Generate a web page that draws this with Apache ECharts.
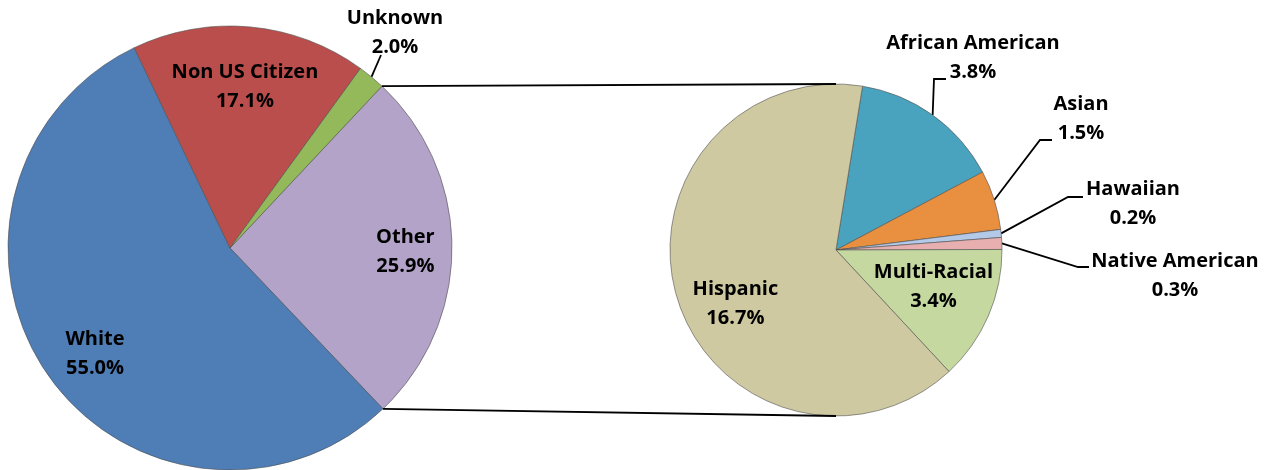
<!DOCTYPE html>
<html><head><meta charset="utf-8">
<script src="https://cdn.jsdelivr.net/npm/echarts@6/dist/echarts.min.js"></script>
<style>html,body{margin:0;padding:0;background:#fff}#c{width:1270px;height:470px}</style>
</head><body><div id="c"></div><script>
// ---- data ----
const leftNames = ['Other', 'White', 'Non US Citizen', 'Unknown'];
const leftValues = [25.9, 55.0, 17.1, 2.0];
const rightNames = ['African American', 'Asian', 'Hawaiian', 'Native American', 'Multi-Racial', 'Hispanic'];
const rightValues = [3.8, 1.5, 0.2, 0.3, 3.4, 16.7];

// ---- styles / layout ----
const leftColors = ['#B3A3C9', '#4F7DB5', '#BA4E4C', '#93B95A'];
const rightColors = ['#4AA3BE', '#E8903F', '#B4C9E8', '#E7AFB0', '#C4D8A0', '#CFC9A1'];
const L = { cx: 230, cy: 248, r: 222, start: 46.8 };
const R = { cx: 836, cy: 250, r: 166, start: 80.8 };
const FONT = '"Open Sans"';
// inside labels: radial fraction + nudge; outside labels: label centre + leader-line bend/end
const leftLabelCfg = {
  'Other': { inside: 0.79, off: [0, 4] },
  'White': { inside: 0.76, off: [4, 10] },
  'Non US Citizen': { inside: 0.74, off: [0, 2] },
  'Unknown': { pos: [395, 33], line: [[381, 55]] }
};
const rightLabelCfg = {
  'Hispanic': { inside: 0.69, off: [9, 21] },
  'Multi-Racial': { inside: 0.62, off: [3, -4] },
  'African American': { pos: [973, 58], line: [[934, 79], [946, 79]] },
  'Asian': { pos: [1081, 119], line: [[1040, 140], [1052, 140]] },
  'Hawaiian': { pos: [1133, 204], line: [[1068, 197], [1083, 197]] },
  'Native American': { pos: [1175, 276], line: [[1078, 267], [1089, 267]] }
};

function sum(a) { return a.reduce((s, v) => s + v, 0); }
function midAngles(values, start) {
  const tot = sum(values); let a = start;
  return values.map(v => { const span = v / tot * 360; const m = a - span / 2; a -= span; return m; });
}
function pt(P, ang, rr) { const t = ang * Math.PI / 180; return [P.cx + rr * Math.cos(t), P.cy - rr * Math.sin(t)]; }

function makeLayout(P, names, values, cfg) {
  const mids = midAngles(values, P.start);
  return function (params) {
    const i = params.dataIndex; const c = cfg[names[i]];
    if (c.inside) {
      const p = pt(P, mids[i], P.r * c.inside);
      return { x: p[0] + c.off[0], y: p[1] + c.off[1], align: 'center', verticalAlign: 'middle' };
    }
    const edge = pt(P, mids[i], P.r);
    return { x: c.pos[0], y: c.pos[1], align: 'center', verticalAlign: 'middle',
      labelLinePoints: [edge].concat(c.line.length === 1 ? [c.line[0], c.line[0]] : c.line) };
  };
}

function series(P, names, values, colors, cfg) {
  return {
    type: 'pie', center: [P.cx, P.cy], radius: P.r, startAngle: P.start, clockwise: true,
    avoidLabelOverlap: false, minAngle: 0, animation: false, silent: true,
    data: names.map((n, i) => ({
      name: n, value: values[i], itemStyle: { color: colors[i] },
      labelLine: { show: !!cfg[n].pos }
    })),
    itemStyle: { borderColor: 'rgba(80,80,80,0.6)', borderWidth: 1 },
    label: {
      show: true, position: 'outside', formatter: p => p.name + '\n' + p.value.toFixed(1) + '%',
      fontFamily: FONT, fontWeight: 'bold', fontSize: 20, lineHeight: 29, color: '#000', align: 'center'
    },
    labelLine: { show: true, lineStyle: { color: '#000', width: 1.8 } },
    labelLayout: makeLayout(P, names, values, cfg)
  };
}

// connector lines: from Other slice boundaries to top/bottom of the second pie
const otherSpan = leftValues[0] / sum(leftValues) * 360;
const a1 = pt(L, L.start, L.r), a2 = pt(L, L.start - otherSpan, L.r);
const b1 = [R.cx, R.cy - R.r], b2 = [R.cx, R.cy + R.r];

const chart = echarts.init(document.getElementById('c'));
chart.setOption({
  animation: false,
  backgroundColor: '#fff',
  series: [
    series(L, leftNames, leftValues, leftColors, leftLabelCfg),
    series(R, rightNames, rightValues, rightColors, rightLabelCfg)
  ],
  graphic: [
    { type: 'line', z: 10, shape: { x1: a1[0], y1: a1[1], x2: b1[0], y2: b1[1] }, style: { stroke: '#000', lineWidth: 1.8 } },
    { type: 'line', z: 10, shape: { x1: a2[0], y1: a2[1], x2: b2[0], y2: b2[1] }, style: { stroke: '#000', lineWidth: 1.8 } }
  ]
});
</script></body></html>
